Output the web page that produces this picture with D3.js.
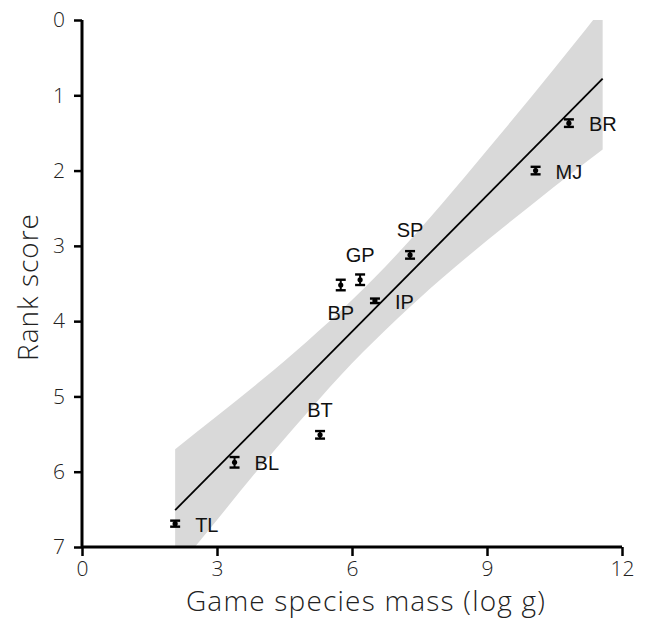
<!DOCTYPE html>
<html>
<head>
<meta charset="utf-8">
<script src="https://cdn.jsdelivr.net/npm/d3@7"></script>
<style>
  html, body { margin: 0; padding: 0; background: #fff; }
  svg { display: block; }
</style>
</head>
<body>
<svg id="chart" width="647" height="622"></svg>
<script>
// ---- data ----
const species = ["TL", "BL", "BT", "BP", "GP", "IP", "SP", "MJ", "BR"];
const massLog = [2.07, 3.39, 5.29, 5.75, 6.18, 6.51, 7.29, 10.08, 10.82];
const rankScore = [6.69, 5.875, 5.51, 3.52, 3.45, 3.73, 3.12, 2.00, 1.37];
const rankErr = [0.04, 0.07, 0.05, 0.07, 0.07, 0.03, 0.05, 0.05, 0.05];
const labelPos = ["right", "right", "above", "below", "above", "right", "above", "right", "right"];

const fitX = [2.07, 11.57];
const fitY = [6.51, 0.78];

const bandX = [2.07, 3, 4, 5, 6, 7, 8, 9, 10, 11, 11.57];
const bandUpper = [5.70, 5.26, 4.78, 4.27, 3.72, 3.11, 2.44, 1.73, 1.01, 0.27, -0.16];
const bandLower = [7.32, 6.64, 5.91, 5.22, 4.56, 3.97, 3.43, 2.93, 2.45, 1.98, 1.72];

const xTicks = [0, 3, 6, 9, 12];
const yTicks = [0, 1, 2, 3, 4, 5, 6, 7];
const xTitle = "Game species mass (log g)";
const yTitle = "Rank score";

// ---- layout ----
const margin = { left: 82, top: 20 };
const iw = 622 - margin.left, ih = 547 - margin.top;

const svg = d3.select("#chart");
const g = svg.append("g").attr("transform", `translate(${margin.left},${margin.top})`);

const x = d3.scaleLinear().domain([0, 12]).range([0, iw]);
const y = d3.scaleLinear().domain([0, 7]).range([0, ih]);

svg.append("defs").append("clipPath").attr("id", "plotclip")
  .append("rect").attr("x", 0).attr("y", 0).attr("width", iw).attr("height", ih);

// confidence band
const bandData = bandX.map((d, i) => ({ x: d, lo: bandUpper[i], hi: bandLower[i] }));
const area = d3.area().x(d => x(d.x)).y0(d => y(d.lo)).y1(d => y(d.hi)).curve(d3.curveMonotoneX);
g.append("path").datum(bandData)
  .attr("clip-path", "url(#plotclip)")
  .attr("d", area)
  .attr("fill", "#d9d9d9");

// regression line
g.append("line")
  .attr("x1", x(fitX[0])).attr("y1", y(fitY[0]))
  .attr("x2", x(fitX[1])).attr("y2", y(fitY[1]))
  .attr("stroke", "#000").attr("stroke-width", 1.8);

// error bars + points
const pts = species.map((s, i) => ({ s, x: massLog[i], y: rankScore[i], e: rankErr[i], pos: labelPos[i] }));
const eb = g.selectAll("g.pt").data(pts).enter().append("g").attr("class", "pt");
eb.append("line")
  .attr("x1", d => x(d.x)).attr("x2", d => x(d.x))
  .attr("y1", d => y(d.y - d.e)).attr("y2", d => y(d.y + d.e))
  .attr("stroke", "#000").attr("stroke-width", 2);
[-1, 1].forEach(sgn => {
  eb.append("line")
    .attr("x1", d => x(d.x) - 5).attr("x2", d => x(d.x) + 5)
    .attr("y1", d => y(d.y + sgn * d.e)).attr("y2", d => y(d.y + sgn * d.e))
    .attr("stroke", "#000").attr("stroke-width", 2.4);
});
eb.append("circle")
  .attr("cx", d => x(d.x)).attr("cy", d => y(d.y)).attr("r", 2.6).attr("fill", "#000");

// point labels
eb.append("text")
  .attr("x", d => d.pos === "right" ? x(d.x) + 20 : x(d.x))
  .attr("y", d => d.pos === "above" ? y(d.y) - 25 : d.pos === "below" ? y(d.y) + 28 : y(d.y) + 1)
  .attr("dy", "0.35em")
  .attr("text-anchor", d => d.pos === "right" ? "start" : "middle")
  .attr("font-family", "'Liberation Sans', Arial, sans-serif")
  .attr("font-size", 20)
  .attr("fill", "#111")
  .text(d => d.s);

// axes
const axisFont = "'Open Sans', Lato, sans-serif";
const xAxis = g.append("g").attr("transform", `translate(0,${ih})`)
  .call(d3.axisBottom(x).tickValues(xTicks).tickSize(9).tickPadding(5).tickFormat(d3.format("d")));
const yAxis = g.append("g")
  .call(d3.axisLeft(y).tickValues(yTicks).tickSize(8).tickPadding(9).tickFormat(d3.format("d")));
[xAxis, yAxis].forEach(a => {
  a.select(".domain").attr("stroke", "#000").attr("stroke-width", 3);
  a.selectAll(".tick line").attr("stroke", "#000").attr("stroke-width", 2.5);
  a.selectAll(".tick text").attr("font-family", axisFont).attr("font-weight", 300)
    .attr("font-size", 21).attr("fill", "#222");
});
xAxis.selectAll(".tick text").attr("font-size", 21).attr("dy", "0.71em");
xAxis.select(".domain").attr("d", `M0,0H${iw}`);
yAxis.select(".domain").attr("d", `M0,0V${ih}`);

// axis titles
svg.append("text")
  .attr("x", 366).attr("y", 611)
  .attr("text-anchor", "middle")
  .attr("font-family", axisFont).attr("font-weight", 300).attr("font-size", 28)
  .attr("letter-spacing", 1.2).attr("fill", "#222")
  .text(xTitle);
svg.append("text")
  .attr("transform", `translate(38,287) rotate(-90)`)
  .attr("text-anchor", "middle")
  .attr("font-family", axisFont).attr("font-weight", 300).attr("font-size", 28)
  .attr("letter-spacing", 1).attr("fill", "#222")
  .text(yTitle);
</script>
</body>
</html>
